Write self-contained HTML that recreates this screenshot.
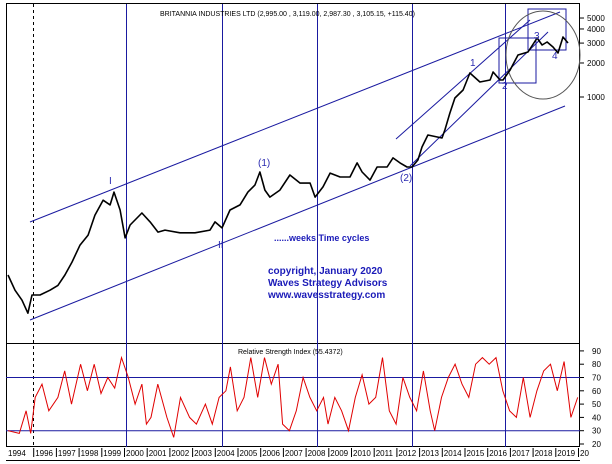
<!DOCTYPE html>
<html><head><meta charset="utf-8"><style>
html,body{margin:0;padding:0;background:#fff;}
svg{display:block;font-family:"Liberation Sans",sans-serif;}
</style></head><body>
<svg id="chart" width="612" height="464" viewBox="0 0 612 464" xmlns="http://www.w3.org/2000/svg">
<rect x="0" y="0" width="612" height="464" fill="#fff"/>
<g id="frame" stroke="#000" fill="none" stroke-width="1">
<rect x="6.5" y="3.5" width="573" height="443"/>
<line x1="6" y1="343.5" x2="580" y2="343.5"/>
<line x1="6" y1="460.5" x2="580" y2="460.5"/>
</g>
<g id="grid"></g>
<g id="price-axis" font-size="8" fill="#000"></g>
<g id="rsi-axis" font-size="8" fill="#000"></g>
<g id="date-axis" font-size="8" fill="#000"></g>
<g id="annot" stroke="#1a1aa0" fill="none" stroke-width="1">
<line x1="30" y1="222" x2="560" y2="12"/>
<line x1="30" y1="320" x2="565" y2="106"/>
<line x1="396" y1="139" x2="530" y2="20"/>
<line x1="410" y1="166" x2="548" y2="32"/>
<rect x="499" y="38" width="37" height="45"/>
<rect x="528" y="9" width="38" height="41"/>
<ellipse cx="543" cy="55" rx="37" ry="44" stroke="#555"/>
</g>
<polyline id="price-line" fill="none" stroke="#000" stroke-width="1.6" stroke-linejoin="round"/>
<polyline id="rsi-line" fill="none" stroke="#e00000" stroke-width="1"/>
<g fill="#2a2ab0" font-size="10">
<text x="109" y="184">I</text>
<text x="218" y="248">II</text>
<text x="258" y="166">(1)</text>
<text x="400" y="181">(2)</text>
<text x="470" y="66">1</text>
<text x="502" y="89">2</text>
<text x="534" y="39">3</text>
<text x="552" y="59">4</text>
</g>
<text x="160" y="16" font-size="7" fill="#000">BRITANNIA INDUSTRIES LTD (2,995.00 , 3,119.00, 2,987.30 , 3,105.15, +115.40)</text>
<text x="238" y="354" font-size="7" fill="#000">Relative Strength Index (55.4372)</text>
<g fill="#1a1ab8" font-weight="bold">
<text x="274" y="241" font-size="9">......weeks Time cycles</text>
<text x="268" y="274" font-size="10">copyright, January 2020</text>
<text x="268" y="286" font-size="10">Waves Strategy Advisors</text>
<text x="268" y="298" font-size="10">www.wavesstrategy.com</text>
</g>
</svg>
<script>
const priceYears=[1994.8,1995.11,1995.42,1995.68,1995.86,1996.21,1996.65,1997.0,1997.31,1997.62,1997.97,1998.33,1998.63,1998.99,1999.3,1999.47,1999.74,1999.96,2000.18,2000.7,2001.06,2001.41,2001.72,2002.38,2003.04,2003.7,2003.92,2004.23,2004.58,2005.02,2005.37,2005.68,2005.9,2006.12,2006.34,2006.78,2007.22,2007.67,2008.11,2008.33,2008.68,2008.99,2009.43,2009.87,2010.18,2010.4,2010.75,2011.06,2011.5,2011.76,2012.07,2012.38,2012.6,2012.86,2013.04,2013.3,2013.92,2014.05,2014.27,2014.49,2014.85,2015.15,2015.59,2016.04,2016.17,2016.48,2016.61,2016.92,2017.27,2017.71,2018.11,2018.33,2018.55,2018.81,2019.03,2019.25,2019.47];
const priceValues=[26.6,19.5,15.9,12.2,17.7,17.7,19.5,21.5,26.6,34.6,48.7,60,90,122,111,144,100,56.6,73.7,94,78.4,63.8,66.4,62.8,62.8,66.4,78.4,69.4,100,111,144,166,217,150,130,150,204,173,173,130,160,212,196,196,261,217,184,240,240,289,261,240,240,277,361,461,434,511,722,980,1153,1631,1358,1414,1665,1414,1414,1733,2355,2502,3327,2885,3069,2770,2449,3396,3006];
const rsiYears=[1994.8,1995.3,1995.6,1995.8,1996,1996.3,1996.6,1997,1997.3,1997.6,1998,1998.3,1998.6,1998.9,1999.2,1999.5,1999.8,2000.1,2000.4,2000.7,2000.9,2001.1,2001.4,2001.8,2002.1,2002.4,2002.8,2003.1,2003.5,2003.8,2004.1,2004.4,2004.6,2004.9,2005.2,2005.5,2005.8,2006.1,2006.4,2006.7,2006.9,2007.2,2007.5,2007.8,2008.1,2008.4,2008.7,2008.9,2009.2,2009.5,2009.8,2010.1,2010.4,2010.7,2011,2011.3,2011.6,2011.9,2012.2,2012.5,2012.8,2013.1,2013.4,2013.6,2013.9,2014.2,2014.5,2014.8,2015.1,2015.4,2015.7,2016,2016.3,2016.6,2016.9,2017.2,2017.5,2017.8,2018.1,2018.4,2018.7,2019,2019.3,2019.6,2019.9];
const rsiValues=[30,28,45,28,55,65,45,55,75,50,80,60,80,58,70,62,85,70,50,65,35,40,65,40,25,55,40,35,50,35,55,60,78,45,55,85,55,85,65,80,35,30,45,70,55,45,55,35,55,45,30,55,72,50,55,85,45,35,70,55,45,75,45,30,55,70,80,65,55,80,85,80,85,60,45,40,70,40,60,75,80,60,82,40,55];
const priceTicks=[1000,2000,3000,4000,5000];
const rsiTicks=[20,30,40,50,60,70,80,90];
const rsiRefLines=[30,70];
const dateLabels=["1996","1997","1998","1999","2000","2001","2002","2003","2004","2005","2006","2007","2008","2009","2010","2011","2012","2013","2014","2015","2016","2017","2018","2019","2020"];
const cycleYears=[1995.91,2000,2004.25,2008.4,2012.6,2016.7];

const NS="http://www.w3.org/2000/svg";
function xScale(yr){return 126+(yr-2000)*22.7;}
function yPrice(p){return 97-113*Math.log10(p/1000);}
function yRsi(v){return 444-(v-20)*1.33;}
function mk(tag,attrs,parent){const e=document.createElementNS(NS,tag);for(const k in attrs)e.setAttribute(k,attrs[k]);parent.appendChild(e);return e;}

const grid=document.getElementById('grid');
cycleYears.forEach((c,i)=>{
  const l=mk('line',{x1:Math.round(xScale(c))+0.5,x2:Math.round(xScale(c))+0.5,y1:4,y2:447,stroke:i===0?'#000':'#1a1aa0','stroke-width':1},grid);
  if(i===0)l.setAttribute('stroke-dasharray','3,3');
  
  
});
rsiRefLines.forEach(v=>{
  const l=mk('line',{x1:6,x2:580,y1:yRsi(v),y2:yRsi(v),stroke:'#1a1aa0','stroke-width':1},grid);
  
  
});

const pa=document.getElementById('price-axis');
priceTicks.forEach(p=>{
  const y=yPrice(p);
  const t=mk('line',{x1:580,x2:584,y1:y,y2:y,stroke:'#000'},pa);
  
  
  const tx=mk('text',{x:587,y:y+3},pa);tx.textContent=p;
  
  
});
const ra=document.getElementById('rsi-axis');
rsiTicks.forEach(v=>{
  const y=yRsi(v);
  const t=mk('line',{x1:580,x2:584,y1:y,y2:y,stroke:'#000'},ra);
  
  
  const tx=mk('text',{x:592,y:y+3},ra);tx.textContent=v;
  
  
});
const da=document.getElementById('date-axis');
{const tx=mk('text',{x:8,y:456},da);tx.textContent='1994';
 
 }
dateLabels.forEach(d=>{
  const x=xScale(+d);
  if(x>580)return;
  const t=mk('line',{x1:x-1.5,x2:x-1.5,y1:448,y2:457,stroke:'#000'},da);
  
  
  const tx=mk('text',{x:x,y:456},da);
  tx.textContent=(x>566)?d.slice(0,2):d;
  
  
});
document.getElementById('price-line').setAttribute('points',priceYears.map((y,i)=>xScale(y).toFixed(1)+','+yPrice(priceValues[i]).toFixed(1)).join(' '));
document.getElementById('rsi-line').setAttribute('points',rsiYears.map((y,i)=>xScale(y).toFixed(1)+','+yRsi(rsiValues[i]).toFixed(1)).join(' '));
</script>
</body></html>
